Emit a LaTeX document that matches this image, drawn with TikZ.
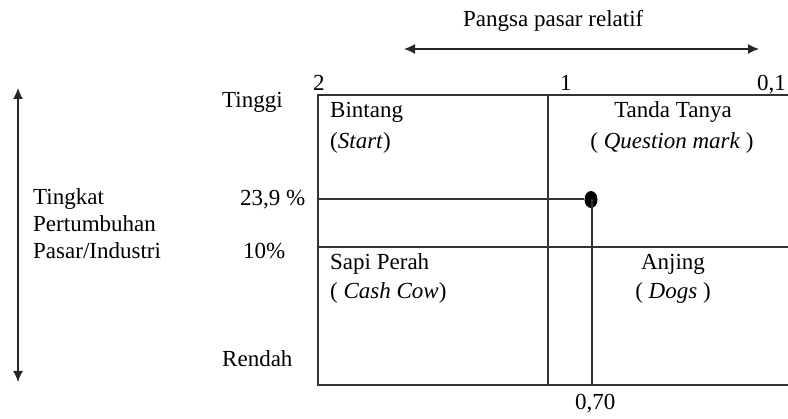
\documentclass[tikz,border=0pt]{standalone}
\usepackage{fontspec}
\setmainfont{Liberation Serif}
\usetikzlibrary{arrows.meta,shapes.geometric}
\begin{document}
\begin{tikzpicture}[x=1pt,y=-1pt,
  lbl/.style={font=\fontsize{23}{27}\selectfont, inner sep=0pt, anchor=base west, text=black},
  clbl/.style={lbl, anchor=base},
  gridline/.style={line width=1.4pt, draw=black!80},
  axis/.style={line width=1.3pt, draw=black!85, {Latex[length=11pt,width=10pt]}-{Latex[length=11pt,width=10pt]}}]
\useasboundingbox (0,0) rectangle (788,419);
\clip (0,0) rectangle (788,419);
% axes
\coordinate (hl) at (404,49); \coordinate (hr) at (759,49);
\draw[axis] (hl) -- (hr);
\coordinate (vt) at (18,88); \coordinate (vb) at (18,382);
\draw[axis] (vt) -- (vb);
\node[lbl] (pangsa) at (463,27) {Pangsa pasar relatif};
% matrix box
\coordinate (tl) at (318,95); \coordinate (br) at (800,385);
\draw[gridline] (tl) rectangle (br);
\coordinate (mt) at (548,95); \coordinate (mb) at (548,385);
\draw[gridline] (mt) -- (mb);
\coordinate (ml) at (318,247); \coordinate (mr) at (800,247);
\draw[gridline] (ml) -- (mr);
% position
\coordinate (pl) at (318,199);
\node[fill=black, ellipse, minimum width=13pt, minimum height=17pt, inner sep=0pt] (dot) at (591,199.5) {};
\draw[gridline] (pl) -- (dot.west |- pl);
\coordinate (pb) at (592,385);
\draw[gridline] (dot.center -| pb) -- (pb);
% scale labels
\node[lbl] (two) at (313,91) {2};
\node[lbl] (one) at (560,91) {1};
\node[lbl] (zeroone) at (757,91) {0,1};
\node[lbl] (tinggi) at (222,108) {Tinggi};
\node[lbl] (p239) at (240,206) {23,9 \%};
\node[lbl] (p10) at (243,259) {10\%};
\node[lbl] (rendah) at (222,367) {Rendah};
\node[lbl] (zero70) at (575,410) {0,70};
% y label
\node[lbl] (ylab1) at (33,205) {Tingkat};
\node[lbl] (ylab2) at (33,232) {Pertumbuhan};
\node[lbl] (ylab3) at (33,259) {Pasar/Industri};
% quadrants
\node[lbl] (bintang) at (330,118) {Bintang};
\node[lbl] (start) at (330,149) {(\textit{Start})};
\node[clbl] (tanda) at (673,118) {Tanda Tanya};
\node[clbl] (qm) at (672,149) {( \textit{Question mark} )};
\node[lbl] (sapi) at (330,270) {Sapi Perah};
\node[lbl] (cash) at (330,299) {( \textit{Cash Cow})};
\node[clbl] (anjing) at (673,270) {Anjing};
\node[clbl] (dogs) at (673,299) {( \textit{Dogs} )};
\end{tikzpicture}
\end{document}
